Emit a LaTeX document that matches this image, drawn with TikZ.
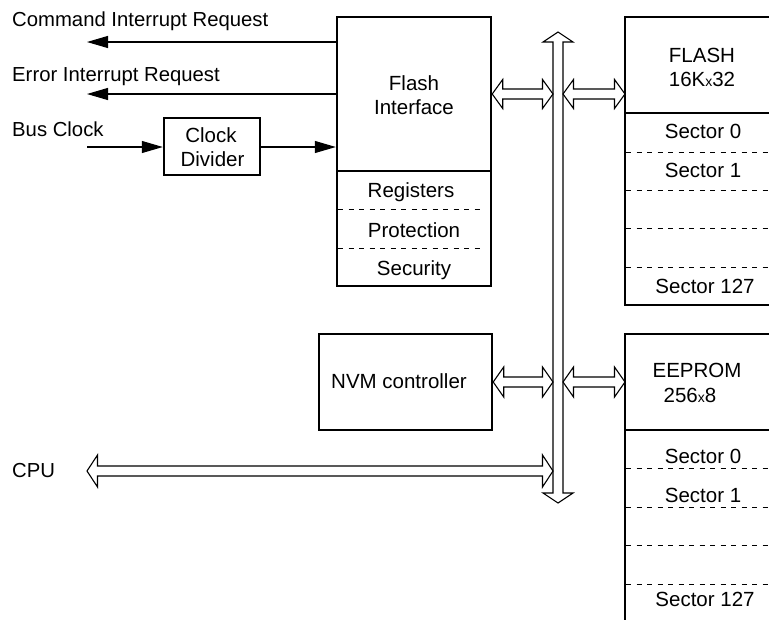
\documentclass[tikz,border=0pt]{standalone}
\usepackage{fontspec}
\setmainfont{Liberation Sans}
\usetikzlibrary{arrows.meta,calc}
\newcommand\hdarrow[3]{%
  \draw[barrow] let \p1=#1,\p2=#2 in
    (\x1,\y1) -- (\x1+10.5pt,\y1+#3) -- (\x1+10.5pt,\y1+5pt) -- (\x2-10.5pt,\y1+5pt)
    -- (\x2-10.5pt,\y1+#3) -- (\x2,\y1) -- (\x2-10.5pt,\y1-#3) -- (\x2-10.5pt,\y1-5pt)
    -- (\x1+10.5pt,\y1-5pt) -- (\x1+10.5pt,\y1-#3) -- cycle;}
\newcommand\vdarrow[2]{%
  \draw[barrow] let \p1=#1,\p2=#2 in
    (\x1,\y1) -- (\x1+15pt,\y1-10pt) -- (\x1+5pt,\y1-10pt) -- (\x1+5pt,\y2+10pt)
    -- (\x1+15pt,\y2+10pt) -- (\x1,\y2) -- (\x1-15pt,\y2+10pt) -- (\x1-5pt,\y2+10pt)
    -- (\x1-5pt,\y1-10pt) -- (\x1-15pt,\y1-10pt) -- cycle;}
\begin{document}
\begin{tikzpicture}[x=1pt,y=-1pt,
  box/.style={draw, line width=2.4pt, inner sep=0pt},
  sepline/.style={line width=1.1pt},
  dsep/.style={line width=0.9pt, dash pattern=on 5pt off 5.5pt},
  txt/.style={anchor=base, inner sep=0pt, font=\fontsize{20.5}{24}\selectfont},
  ltxt/.style={anchor=base west, inner sep=0pt, font=\fontsize{20.3}{24}\selectfont},
  sig/.style={line width=1.1pt, -{Triangle[length=21pt,width=12pt]}},
  barrow/.style={draw, line width=1.1pt, fill=white, line join=miter}]
\useasboundingbox (0,0) rectangle (769,619);
\fill[white] (0,0) rectangle (769,619);

% Flash interface
\node[box, minimum width=154pt, minimum height=269pt] (fi) at (414,151.5) {};
\draw[sepline] (337,171) -- (491,171);
\draw[dsep] (338,209) -- (482,209);
\draw[dsep] (338,248) -- (482,248);
\node[txt] (fiA) at (414,90) {Flash};
\node[txt] (fiB) at (414,114) {Interface};
\node[txt] (reg) at (411,197) {Registers};
\node[txt] (prot) at (414,237) {Protection};
\node[txt] (sec) at (414,275) {Security};

% Clock divider
\node[box, minimum width=96pt, minimum height=57pt] (cd) at (212,146.5) {};
\node[txt] (cdA) at (211,142) {Clock};
\node[txt] (cdB) at (212.5,166) {Divider};

% NVM controller
\node[box, minimum width=173pt, minimum height=96pt] (nvm) at (405.5,382) {};
\node[txt] (nvmt) at (399,388) {NVM controller};

% FLASH array
\node[minimum width=144pt, minimum height=288pt, inner sep=0pt, outer sep=0pt] (flash) at (697,161) {};
\draw[line width=2.4pt] ($(flash.north east)+(3,0)$) -- (flash.north west) -- (flash.south west) -- ($(flash.south east)+(3,0)$);
\draw[sepline] (625,113) -- (772,113);
\foreach \yy in {152,190,228,267} \draw[dsep] (626,\yy) -- (772,\yy);
\node[txt] (flA) at (702,62) {FLASH};
\node[txt] (flB) at (702,86) {16K{\fontsize{14}{14}\selectfont x}32};
\node[txt] (fs0) at (703,138) {Sector 0};
\node[txt] (fs1) at (703,177) {Sector 1};
\node[txt] (fs127) at (705,293) {Sector 127};

% EEPROM array
\node[minimum width=144pt, minimum height=288pt, inner sep=0pt, outer sep=0pt] (ee) at (697,478) {};
\draw[line width=2.4pt] ($(ee.north east)+(3,0)$) -- (ee.north west) -- (ee.south west);
\draw[sepline] (625,430) -- (772,430);
\foreach \yy in {468,507,545,584} \draw[dsep] (626,\yy) -- (772,\yy);
\node[txt] (eeA) at (697,377) {EEPROM};
\node[txt] (eeB) at (690,402) {256{\fontsize{14}{14}\selectfont x}8};
\node[txt] (es0) at (703,463) {Sector 0};
\node[txt] (es1) at (703,502) {Sector 1};
\node[txt] (es127) at (705,606) {Sector 127};

% bus
\coordinate (bustop) at (558,32);
\coordinate (busbot) at (558,503);
\coordinate (bl) at (553,0);
\coordinate (br) at (563,0);
\vdarrow{(bustop)}{(busbot)}

% horizontal bus arrows
\coordinate (ya) at (0,94);
\coordinate (yb) at (0,382);
\hdarrow{(fi.east |- ya)}{(bl |- ya)}{14.5pt}
\hdarrow{(br |- ya)}{(flash.west |- ya)}{14.5pt}
\hdarrow{(nvm.east |- yb)}{(bl |- yb)}{15pt}
\hdarrow{(br |- yb)}{(ee.west |- yb)}{15pt}
\coordinate (cpuend) at (87,471);
\hdarrow{(cpuend)}{(bl |- cpuend)}{16pt}

% signals
\coordinate (cmdend) at (87,42);
\coordinate (errend) at (87,94);
\coordinate (clkin) at (87,147);
\draw[sig] (fi.west |- cmdend) -- (cmdend);
\draw[sig] (fi.west |- errend) -- (errend);
\draw[sig] (clkin) -- (cd.west |- clkin);
\draw[sig] (cd.east |- clkin) -- (fi.west |- clkin);

% labels
\node[ltxt] (lcmd) at (12,26) {Command Interrupt Request};
\node[ltxt] (lerr) at (12,81.5) {Error Interrupt Request};
\node[ltxt] (lclk) at (12,136) {Bus Clock};
\node[ltxt] (lcpu) at (12,477) {CPU};
\end{tikzpicture}
\end{document}
